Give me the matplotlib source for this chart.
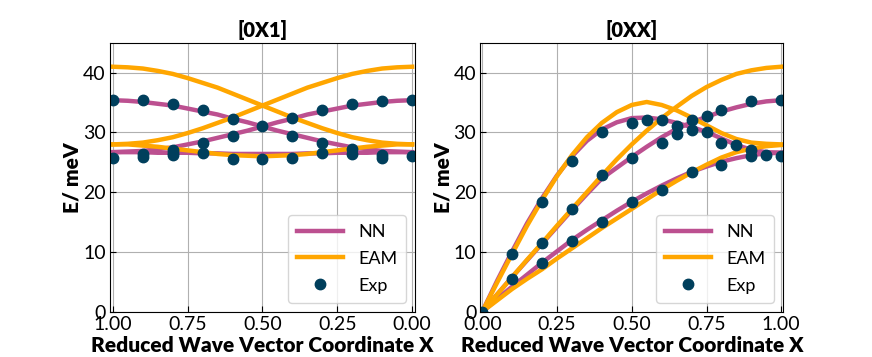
import matplotlib
matplotlib.use("Agg")
import matplotlib.pyplot as plt

plt.rcParams["font.family"] = ["Lato", "DejaVu Sans"]

NN_COLOR = "#bc5090"
EAM_COLOR = "#ffa600"
EXP_COLOR = "#003f5c"

#----[0X1] direction----
q = [0.0, 0.05, 0.1, 0.15, 0.2, 0.25, 0.3, 0.35, 0.4, 0.45, 0.5,
     0.55, 0.6, 0.65, 0.7, 0.75, 0.8, 0.85, 0.9, 0.95, 1.0]

x1_nn_up = [26.7, 26.8, 26.9, 27.2, 27.5, 28.0, 28.5, 29.1, 29.7, 30.3, 31.0,
            31.7, 32.3, 33.0, 33.5, 34.0, 34.5, 34.8, 35.1, 35.3, 35.4]
x1_nn_down = [35.4, 35.3, 35.1, 34.8, 34.5, 34.0, 33.5, 33.0, 32.3, 31.7, 31.0,
              30.3, 29.7, 29.1, 28.5, 28.0, 27.5, 27.2, 26.9, 26.8, 26.7]
x1_nn_flat = [26.7, 26.7, 26.7, 26.6, 26.6, 26.6, 26.5, 26.5, 26.4, 26.4, 26.4,
              26.4, 26.4, 26.5, 26.5, 26.6, 26.6, 26.6, 26.7, 26.7, 26.7]
x1_eam_up = [28.0, 28.1, 28.3, 28.7, 29.2, 29.9, 30.7, 31.6, 32.5, 33.5, 34.5,
             35.5, 36.5, 37.5, 38.3, 39.1, 39.8, 40.3, 40.7, 40.9, 41.0]
x1_eam_down = [41.0, 40.9, 40.7, 40.3, 39.8, 39.1, 38.3, 37.5, 36.5, 35.5, 34.5,
               33.5, 32.5, 31.6, 30.7, 29.9, 29.2, 28.7, 28.3, 28.1, 28.0]
x1_eam_low = [28.0, 28.0, 27.8, 27.6, 27.3, 27.0, 26.7, 26.4, 26.2, 26.1, 26.0,
              26.1, 26.2, 26.4, 26.7, 27.0, 27.3, 27.6, 27.8, 28.0, 28.0]

x1_exp_q = [1.0, 0.9, 0.8, 0.7, 0.6, 0.5, 0.4, 0.3, 0.2,
            0.8, 0.7, 0.6, 0.4, 0.3, 0.2, 0.1, 0.0,
            1.0, 0.9, 0.9, 0.8, 0.8, 0.7, 0.6, 0.5, 0.4, 0.3, 0.2, 0.1, 0.1, 0.0]
x1_exp_e = [35.4, 35.4, 34.7, 33.8, 32.3, 31.0, 29.4, 28.2, 27.3,
            27.1, 28.3, 29.4, 32.4, 33.8, 34.8, 35.3, 35.5,
            25.8, 26.4, 25.9, 26.5, 26.3, 26.5, 25.5, 25.6, 25.7, 26.5, 26.4, 26.3, 25.8, 26.0]

#----[0XX] direction----
xx_nn_arch = [0.0, 5.2, 10.1, 14.8, 19.0, 22.8, 26.0, 28.6, 30.5, 31.7, 32.4,
              32.5, 32.2, 31.6, 30.9, 30.1, 29.0, 27.9, 27.1, 26.7, 26.6]
xx_nn_mid = [0.0, 2.9, 5.8, 8.6, 11.4, 14.2, 17.0, 19.7, 22.3, 24.1, 25.9,
             27.6, 29.2, 30.6, 31.7, 32.6, 33.5, 34.2, 34.8, 35.2, 35.4]
xx_nn_low = [0.0, 2.1, 4.2, 6.2, 8.2, 10.1, 12.0, 13.7, 15.3, 16.9, 18.4,
             19.8, 21.1, 22.3, 23.4, 24.3, 25.1, 25.7, 26.2, 26.5, 26.6]
xx_eam_arch = [0.0, 4.9, 9.7, 14.4, 18.7, 22.7, 26.2, 29.2, 31.6, 33.4, 34.6,
               35.1, 34.6, 33.7, 32.5, 31.2, 29.9, 28.9, 28.3, 28.1, 28.0]
xx_eam_mid = [0.0, 2.9, 5.8, 8.7, 11.5, 14.4, 17.2, 20.0, 22.8, 25.5, 28.0,
              30.3, 32.4, 34.3, 36.1, 37.6, 38.8, 39.8, 40.4, 40.8, 41.0]
xx_eam_low = [0.0, 1.9, 3.8, 5.5, 7.1, 8.9, 10.6, 12.3, 14.0, 15.6, 17.2,
              18.8, 20.4, 21.9, 23.3, 24.6, 25.8, 26.7, 27.3, 27.7, 27.9]

xx_exp_q = [0.0, 0.1, 0.1, 0.2, 0.2, 0.2, 0.3, 0.3, 0.3, 0.4, 0.4, 0.4,
            0.5, 0.5, 0.5, 0.55, 0.6, 0.6, 0.6, 0.65, 0.65, 0.7, 0.7, 0.7,
            0.75, 0.75, 0.8, 0.8, 0.8, 0.85, 0.9, 0.9, 0.9, 0.95, 1.0, 1.0]
xx_exp_e = [0.0, 9.7, 5.5, 18.4, 11.5, 8.1, 25.3, 17.2, 11.8, 30.1, 22.9, 15.0,
            31.5, 25.7, 18.3, 32.0, 32.0, 28.3, 20.4, 31.1, 29.8, 32.1, 30.4, 23.4,
            32.7, 30.0, 33.7, 28.3, 24.6, 27.9, 35.3, 27.1, 26.0, 26.3, 35.4, 26.0]

#----Plotting----

fig = plt.figure(figsize=(8.72, 3.57), dpi=100)
ax1 = fig.add_axes([0.126, 0.127, 0.350, 0.753])
ax2 = fig.add_axes([0.551, 0.127, 0.347, 0.753])

lw = 3.2
ms = 7.5

for c in [x1_nn_up, x1_nn_down, x1_nn_flat]:
    ax1.plot(q, c, color=NN_COLOR, lw=lw)
for c in [x1_eam_up, x1_eam_down, x1_eam_low]:
    ax1.plot(q, c, color=EAM_COLOR, lw=lw)
ax1.plot(x1_exp_q, x1_exp_e, "o", color=EXP_COLOR, ms=ms)

for c in [xx_nn_arch, xx_nn_mid, xx_nn_low]:
    ax2.plot(q, c, color=NN_COLOR, lw=lw)
for c in [xx_eam_arch, xx_eam_mid, xx_eam_low]:
    ax2.plot(q, c, color=EAM_COLOR, lw=lw)
ax2.plot(xx_exp_q, xx_exp_e, "o", color=EXP_COLOR, ms=ms)

ax1.set_xlim(1.01, -0.01)
ax2.set_xlim(-0.006, 1.006)

for ax, title in [(ax1, "[0X1]"), (ax2, "[0XX]")]:
    ax.plot([], [], color=NN_COLOR, lw=lw, label="NN")
    ax.plot([], [], color=EAM_COLOR, lw=lw, label="EAM")
    ax.plot([], [], "o", color=EXP_COLOR, ms=ms, label="Exp")
    ax.set_ylim(0, 45)
    ax.set_xticks([0, 0.25, 0.5, 0.75, 1.0])
    ax.set_yticks([0, 10, 20, 30, 40])
    ax.grid(True, color="#b0b0b0", lw=0.8)
    ax.set_axisbelow(True)
    ax.tick_params(direction="in", labelsize=14, length=4, pad=3)
    ax.set_title(title, fontsize=14.5, fontweight="heavy", pad=4)
    ax.set_xlabel("Reduced Wave Vector Coordinate X", fontsize=15, fontweight="heavy", labelpad=2)
    ax.set_ylabel("E/ meV", fontsize=15, fontweight="heavy", labelpad=1)
    ax.legend(loc="lower right", fontsize=13, handlelength=2.5, handletextpad=0.85,
              borderpad=0.5, labelspacing=0.6)

plt.savefig("out.png", dpi=100)
